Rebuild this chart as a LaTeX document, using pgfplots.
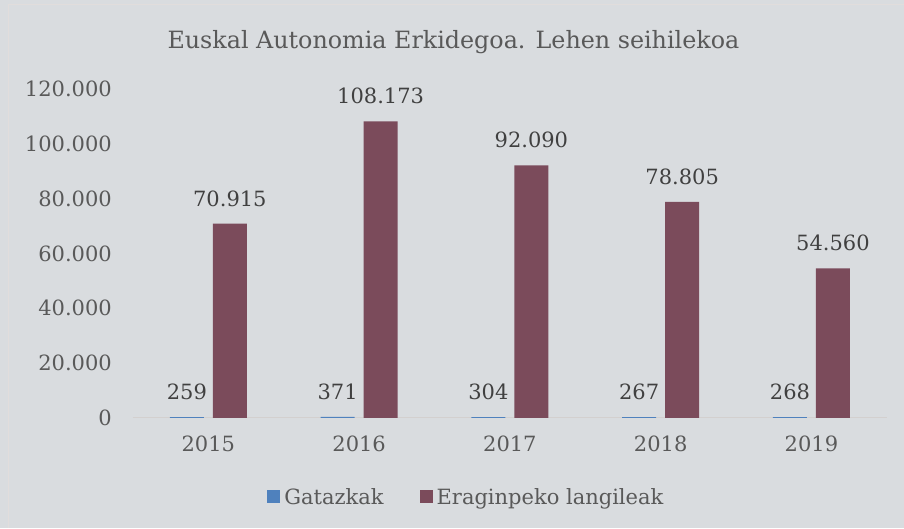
\documentclass[border=0pt]{standalone}
\usepackage{pgfplots}
\pgfplotsset{compat=1.18}
\usepackage{fontspec}
\setmainfont{DejaVu Serif}

\definecolor{bgc}{HTML}{D9DCDF}
\definecolor{framec}{HTML}{E1DDDC}
\definecolor{gat}{HTML}{4F81BD}
\definecolor{era}{HTML}{7B4B5B}
\definecolor{txt}{HTML}{595959}
\definecolor{lbl}{HTML}{404040}
\definecolor{axl}{HTML}{D3D0CF}

\begin{document}
\begin{tikzpicture}[x=1pt,y=1pt]
\fill[bgc] (0,0) rectangle (904,528);
\draw[framec] (8.5,0) -- (8.5,523.5) -- (904,523.5);
\node[txt, font=\fontsize{23.8}{28}\selectfont] at (453.5,486) {Euskal Autonomia Erkidegoa. Lehen seihilekoa};
\begin{axis}[
  at={(133pt,110pt)}, anchor=south west,
  scale only axis, width=754pt, height=329pt,
  ybar=9pt, bar width=34pt,
  xmin=-0.5, xmax=4.5, ymin=0, ymax=120000,
  xtick=data, xticklabels={2015,2016,2017,2018,2019},
  ytick={0,20000,40000,60000,80000,100000,120000},
  scaled y ticks=false,
  axis x line=bottom, axis y line=left,
  x axis line style={draw=axl, line width=1pt, -},
  y axis line style={draw=none},
  major tick length=0pt,
  tick label style={font=\fontsize{21}{25}\selectfont, text=txt},
  yticklabel style={anchor=east, inner sep=0pt, xshift=-21pt},
  xticklabel style={anchor=north, inner sep=0pt, yshift=-18pt},
  /pgf/number format/.cd, 1000 sep={.}, fixed, precision=0, assume math mode=true,
  /pgfplots/.cd,
  nodes near coords,
  nodes near coords style={anchor=base, inner sep=0pt, yshift=17.5pt,
    font=\fontsize{21}{25}\selectfont, text=lbl},
  clip=false,
  legend columns=2,
  legend style={at={(0.4423,-0.240)}, anchor=center, draw=none, fill=none,
    inner sep=0pt, font=\fontsize{21}{25}\selectfont, text=txt,
    /tikz/every odd column/.append style={column sep=2pt},
    /tikz/every even column/.append style={column sep=34pt}},
  legend image code/.code={\fill[#1] (0pt,-6.5pt) rectangle (13pt,6.5pt);},
]
\addplot[fill=gat, draw=none] coordinates {(0,259) (1,371) (2,304) (3,267) (4,268)};
\addplot[fill=era, draw=none] coordinates {(0,70915) (1,108173) (2,92090) (3,78805) (4,54560)};
\legend{Gatazkak, Eraginpeko langileak}
\end{axis}
\end{tikzpicture}
\end{document}
